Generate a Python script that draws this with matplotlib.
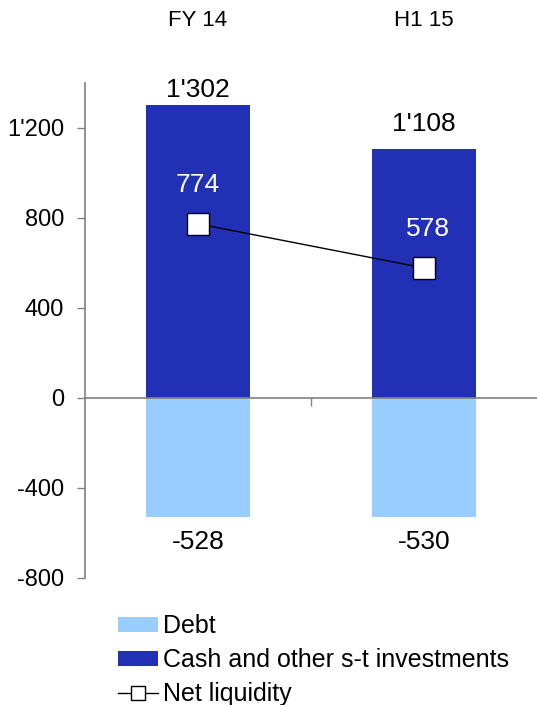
import matplotlib
matplotlib.use("Agg")
import matplotlib.pyplot as plt
from matplotlib.patches import Patch
from matplotlib.lines import Line2D

categories = ["FY 14", "H1 15"]
cash = [1302, 1108]
debt = [-528, -530]
net_liquidity = [774, 578]
cash_labels = ["1'302", "1'108"]
debt_labels = ["-528", "-530"]
net_labels = ["774", "578"]
ytick_vals = [-800, -400, 0, 400, 800, 1200]
ytick_labels = ["-800", "-400", "0", "400", "800", "1'200"]

plt.rcParams['font.family'] = ['Liberation Sans', 'DejaVu Sans']

CASH_C = '#2130B5'
DEBT_C = '#99CCFF'
GRAY = '#808080'

fig = plt.figure(figsize=(5.37, 7.05), dpi=100)
ax = fig.add_axes([85/537, 1 - 578/705, 1 - 85/537, (578 - 83)/705])

x = list(range(len(categories)))
ax.bar(x, cash, width=0.46, color=CASH_C, zorder=2)
ax.bar(x, debt, width=0.46, color=DEBT_C, zorder=2)
ax.plot(x, net_liquidity, color='black', lw=1, marker='s', markersize=16,
        markerfacecolor='white', markeredgecolor='black', markeredgewidth=1, zorder=4)

ax.set_xlim(-0.5, 1.5)
ax.set_ylim(-800, 1400)
ax.set_yticks(ytick_vals)
ax.set_yticklabels(ytick_labels)
ax.set_xticks(x)
ax.set_xticklabels(categories)
ax.set_xticks([0.5], minor=True)
ax.tick_params(axis='x', which='major', top=False, bottom=False, labeltop=True,
               labelbottom=False, pad=34, labelsize=16)
ax.tick_params(axis='x', which='minor', bottom=True, top=False, length=6,
               width=1, color=GRAY, direction='out')
ax.tick_params(axis='y', length=6, width=1, color=GRAY, pad=9, labelsize=17)

for s in ['top', 'right']:
    ax.spines[s].set_visible(False)
ax.spines['left'].set_color(GRAY)
ax.spines['left'].set_linewidth(1.2)
ax.spines['bottom'].set_position(('data', 0))
ax.spines['bottom'].set_color(GRAY)
ax.spines['bottom'].set_linewidth(1.2)
ax.spines['bottom'].set_zorder(3)

cash_offsets = [11, 18]
for i in x:
    ax.annotate(cash_labels[i], (i, cash[i]), xytext=(0, cash_offsets[i]),
                textcoords='offset points', ha='center', va='center', fontsize=19)
    ax.annotate(debt_labels[i], (i, debt[i]), xytext=(0, -18),
                textcoords='offset points', ha='center', va='center', fontsize=19)
    ax.annotate(net_labels[i], (i, net_liquidity[i]), xytext=(3 * i, 28),
                textcoords='offset points', ha='center', va='center', fontsize=19,
                color='white', zorder=5)

handles = [Patch(facecolor=DEBT_C, edgecolor='none', label='Debt'),
           Patch(facecolor=CASH_C, edgecolor='none', label='Cash and other s-t investments'),
           Line2D([], [], color='black', lw=1, marker='s', markersize=10,
                  markerfacecolor='white', markeredgecolor='black', label='Net liquidity')]
fig.legend(handles=handles, loc='upper left', bbox_to_anchor=(118/537, 1 - 614/705),
           frameon=False, fontsize=18, handlelength=1.6, handleheight=0.55,
           handletextpad=0.2, labelspacing=0.4, borderaxespad=0, borderpad=0)

fig.savefig('out.png', dpi=100)
